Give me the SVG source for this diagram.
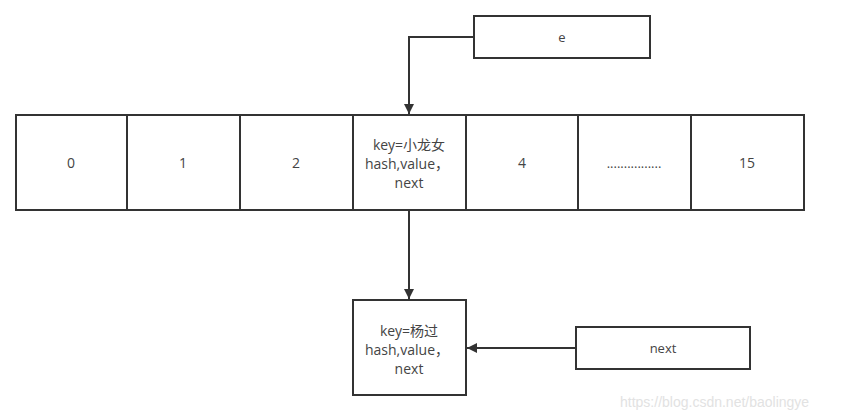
<svg xmlns="http://www.w3.org/2000/svg" width="843" height="420" viewBox="0 0 843 420">
<defs>
<style>
.box{fill:#fff;stroke:#333;stroke-width:2}
.t{font-family:"Open Sans","Noto Sans","Noto Sans CJK SC",sans-serif;font-size:14px;fill:#444;text-anchor:middle}
.s{font-size:13px}
.c{fill:none;stroke:#333;stroke-width:2}
.wm{font-family:"Liberation Sans",Arial,sans-serif;font-size:14px;fill:#e2e2e2}
</style>
<marker id="ah" viewBox="0 0 10 10" refX="10" refY="5" markerWidth="5" markerHeight="5" orient="auto" markerUnits="strokeWidth">
<path d="M0,0 L10,5 L0,10 z" fill="#333"/>
</marker>
</defs>
<rect width="843" height="420" fill="#fff"/>
<g id="e"><rect class="box" x="474" y="16" width="176" height="42"/><text class="t s" x="562" y="42">e</text></g>
<g id="cell0"><rect class="box" x="16" y="115" width="111" height="95"/><text class="t" x="71" y="168">0</text></g>
<g id="cell1"><rect class="box" x="127" y="115" width="113" height="95"/><text class="t" x="183" y="168">1</text></g>
<g id="cell2"><rect class="box" x="240" y="115" width="113" height="95"/><text class="t" x="296" y="168">2</text></g>
<g id="cell3"><rect class="box" x="353" y="115" width="113" height="95"/><text class="t" x="409" y="150">key=小龙女</text><text class="t" x="407" y="169">hash,value，</text><text class="t" x="409" y="188">next</text></g>
<g id="cell4"><rect class="box" x="466" y="115" width="112" height="95"/><text class="t" x="522" y="168">4</text></g>
<g id="cell5"><rect class="box" x="578" y="115" width="113" height="95"/><text class="t s" x="634" y="168">................</text></g>
<g id="cell15"><rect class="box" x="691" y="115" width="113" height="95"/><text class="t" x="747" y="168">15</text></g>
<g id="yangguo"><rect class="box" x="353" y="300" width="113" height="95"/><text class="t" x="409" y="336">key=杨过</text><text class="t" x="407" y="355">hash,value，</text><text class="t" x="409" y="374">next</text></g>
<g id="nextbox"><rect class="box" x="576" y="327" width="174" height="42"/><text class="t s" x="663" y="353">next</text></g>
<g id="connectors">
<path class="c" d="M474,37 H409 V114" marker-end="url(#ah)"/>
<path class="c" d="M409,210 V299" marker-end="url(#ah)"/>
<path class="c" d="M576,348 H467" marker-end="url(#ah)"/>
</g>
<text class="wm" x="620" y="407">https://blog.csdn.net/baolingye</text>
</svg>
